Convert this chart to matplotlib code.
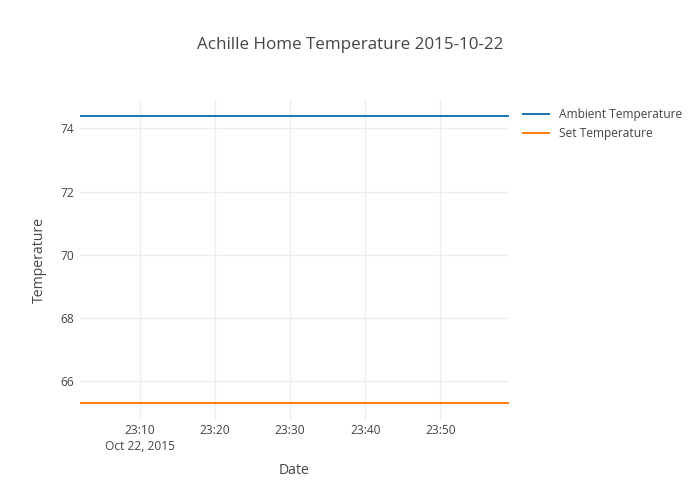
import matplotlib
matplotlib.use("Agg")
import matplotlib.pyplot as plt
import pandas as pd

# Data
times = pd.to_datetime([
    "2015-10-22 23:02:00", "2015-10-22 23:12:00", "2015-10-22 23:22:00",
    "2015-10-22 23:32:00", "2015-10-22 23:42:00", "2015-10-22 23:52:00",
    "2015-10-22 23:59:10",
])
ambient = [74.4, 74.4, 74.4, 74.4, 74.4, 74.4, 74.4]
set_temp = [65.3, 65.3, 65.3, 65.3, 65.3, 65.3, 65.3]
series_names = ["Ambient Temperature", "Set Temperature"]
y_ticks = [66, 68, 70, 72, 74]
x_ticks = pd.to_datetime([
    "2015-10-22 23:10", "2015-10-22 23:20", "2015-10-22 23:30",
    "2015-10-22 23:40", "2015-10-22 23:50",
])
x_ticklabels = ["23:10\nOct 22, 2015", "23:20", "23:30", "23:40", "23:50"]

plt.rcParams["font.family"] = ["Open Sans", "DejaVu Sans"]
text_col = "#444444"

fig = plt.figure(figsize=(7, 5), dpi=100)
ax = fig.add_axes([80 / 700, 80 / 500, 429 / 700, 320 / 500])

lw = 2 * 72 / 100
l1, = ax.plot(times, ambient, color="#1f77b4", lw=lw, label=series_names[0])
l2, = ax.plot(times, set_temp, color="#ff7f0e", lw=lw, label=series_names[1])

ax.set_xlim(times[0], times[-1])
ax.set_ylim(64.77, 74.9)
ax.set_yticks(y_ticks)
ax.set_yticklabels([str(v) for v in y_ticks])
ax.set_xticks(x_ticks)
ax.set_xticklabels(x_ticklabels, linespacing=1.3, va="top")

for s in ax.spines.values():
    s.set_visible(False)
ax.grid(True, color="#eeeeee", lw=1)
ax.set_axisbelow(True)
ax.tick_params(length=0, labelsize=8.64, colors=text_col)
ax.tick_params(axis="x", pad=3)
ax.tick_params(axis="y", pad=4)
for lab in ax.get_xticklabels():
    lab.set_horizontalalignment("center")

ax.set_xlabel("Date", fontsize=10.08, color=text_col, labelpad=7)
ax.set_ylabel("Temperature", fontsize=10.08, color=text_col, labelpad=10)
fig.text(350 / 700, 1 - 45 / 500, "Achille Home Temperature 2015-10-22",
         ha="center", va="center", fontsize=12.24, color=text_col)

leg = fig.legend(handles=[l1, l2], loc="upper left",
                 bbox_to_anchor=(523 / 700, 1 - 108 / 500),
                 frameon=False, fontsize=8.64, handlelength=2.2,
                 handletextpad=0.8, labelspacing=0.5, borderaxespad=0,
                 borderpad=0)
for t in leg.get_texts():
    t.set_color(text_col)

fig.savefig("out.png", dpi=100)
